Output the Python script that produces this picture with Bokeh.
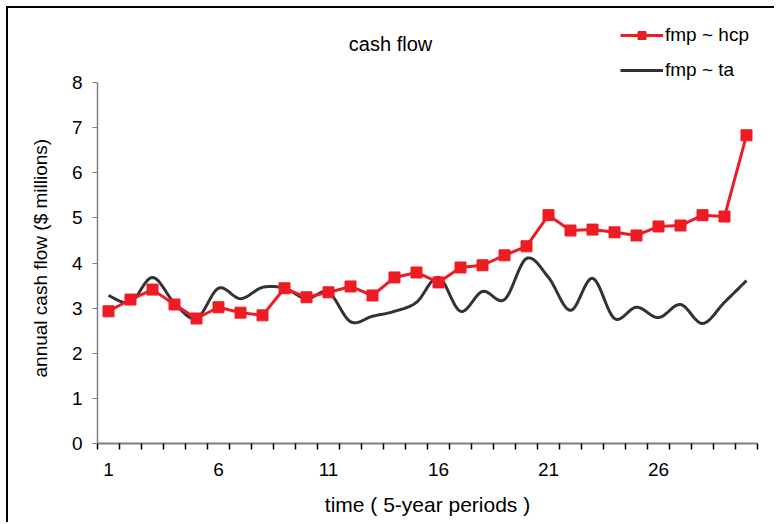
from bokeh.plotting import figure
from bokeh.models import (Range1d, FixedTicker, Label, Legend, LegendItem,
                          Title, ColumnDataSource)
from bokeh.embed import file_html
from bokeh.resources import INLINE

# ---- data ----
periods = list(range(1, 31))
hcp = [2.93, 3.19, 3.41, 3.08, 2.77, 3.02, 2.90, 2.84, 3.44, 3.24,
       3.35, 3.48, 3.28, 3.68, 3.79, 3.57, 3.90, 3.95, 4.17, 4.37,
       5.06, 4.72, 4.74, 4.68, 4.61, 4.81, 4.83, 5.06, 5.03, 6.83]
ta = [3.28, 3.13, 3.68, 3.11, 2.77, 3.44, 3.21, 3.46, 3.44, 3.21,
      3.35, 2.70, 2.82, 2.93, 3.13, 3.68, 2.93, 3.37, 3.19, 4.10,
      3.68, 2.95, 3.66, 2.77, 3.02, 2.79, 3.08, 2.66, 3.13, 3.61]
x_tick_labels = [1, 6, 11, 16, 21, 26]
y_ticks = [0, 1, 2, 3, 4, 5, 6, 7, 8]
series_names = ["fmp ~ hcp", "fmp ~ ta"]
chart_title = "cash flow"
x_title = "time ( 5-year periods )"
y_title = "annual cash flow ($ millions)"


def smooth(xs, ys, n=16):
    """Catmull-Rom style smoothing (like a spreadsheet 'smoothed line')."""
    px, py = [], []
    N = len(xs)
    for i in range(N - 1):
        x0, y0 = (xs[i - 1], ys[i - 1]) if i > 0 else (xs[i], ys[i])
        x1, y1 = xs[i], ys[i]
        x2, y2 = xs[i + 1], ys[i + 1]
        x3, y3 = (xs[i + 2], ys[i + 2]) if i + 2 < N else (xs[i + 1], ys[i + 1])
        bx1, by1 = x1 + (x2 - x0) / 6, y1 + (y2 - y0) / 6
        bx2, by2 = x2 - (x3 - x1) / 6, y2 - (y3 - y1) / 6
        for k in range(n):
            t = k / n
            a = (1 - t) ** 3
            b = 3 * (1 - t) ** 2 * t
            c = 3 * (1 - t) * t ** 2
            d = t ** 3
            px.append(a * x1 + b * bx1 + c * bx2 + d * x2)
            py.append(a * y1 + b * by1 + c * by2 + d * y2)
    px.append(xs[-1])
    py.append(ys[-1])
    return px, py


FONT = "Liberation Sans"
W, H = 768, 516
B_LEFT, B_RIGHT, B_TOP, B_BOTTOM = 89, 19, 2, 81
Y_MAX_AXIS = 8
AXIS_PX = 361  # pixel height of the 0..8 axis
y_end = Y_MAX_AXIS * (H - B_TOP - B_BOTTOM) / AXIS_PX

p = figure(width=W, height=H, output_backend="svg", toolbar_location=None,
           x_range=Range1d(0.5, 30.5), y_range=Range1d(0, y_end),
           min_border_left=B_LEFT, min_border_right=B_RIGHT,
           min_border_top=B_TOP, min_border_bottom=B_BOTTOM,
           styles={"margin-left": "6px", "margin-top": "6px",
                   "border-left": "2px solid black",
                   "border-top": "2px solid black"})
p.outline_line_color = None
p.xgrid.visible = False
p.ygrid.visible = False
p.background_fill_color = "white"
p.border_fill_color = "white"

red = "#ED1C24"
dark = "#333333"

sx, sy = smooth(periods, ta)
r_ta = p.line(sx, sy, line_color=dark, line_width=3)

src = ColumnDataSource(dict(x=periods, y=hcp))
r_hcp_line = p.line("x", "y", source=src, line_color=red, line_width=3)
r_hcp_pts = p.scatter("x", "y", source=src, marker="square", size=11,
                      fill_color=red, line_color=red)

# x axis
xa = p.xaxis[0]
xa.ticker = FixedTicker(ticks=x_tick_labels,
                        minor_ticks=[i + 0.5 for i in range(0, 31)])
xa.axis_line_color = "#808080"
xa.axis_line_width = 2
xa.major_tick_out = 0
xa.major_tick_in = 0
xa.minor_tick_out = 6
xa.minor_tick_in = 0
xa.minor_tick_line_color = "black"
xa.minor_tick_line_width = 1.5
xa.major_label_text_font = FONT
xa.major_label_text_font_size = "19px"
xa.major_label_text_color = "black"
xa.major_label_standoff = 13
xa.axis_label = x_title
xa.axis_label_text_font = FONT
xa.axis_label_text_font_size = "21px"
xa.axis_label_text_font_style = "normal"
xa.axis_label_text_color = "black"
xa.axis_label_standoff = 14

# y axis (only spans 0..8; the space above holds title and legend)
ya = p.yaxis[0]
ya.ticker = FixedTicker(ticks=y_ticks)
ya.bounds = (0, Y_MAX_AXIS)
ya.axis_line_color = "#808080"
ya.axis_line_width = 1.5
ya.major_tick_out = 5
ya.major_tick_in = 0
ya.major_tick_line_color = "#808080"
ya.minor_tick_out = 0
ya.minor_tick_in = 0
ya.major_label_text_font = FONT
ya.major_label_text_font_size = "19px"
ya.major_label_text_color = "black"
ya.major_label_standoff = 10

ytitle = Title(text=y_title, align="left", offset=66, standoff=36,
               vertical_align="bottom", text_font=FONT,
               text_font_size="19px", text_font_style="normal",
               text_color="black")
p.add_layout(ytitle, "left")

# chart title
title = Label(x=13.82, y=8.864, text=chart_title, text_align="center",
              text_baseline="middle", text_font=FONT,
              text_font_size="20px", text_color="black")
p.add_layout(title)

legend = Legend(items=[LegendItem(label=series_names[0], renderers=[r_hcp_line, r_hcp_pts]),
                       LegendItem(label=series_names[1], renderers=[r_ta])],
                location=(523, 362), orientation="vertical",
                background_fill_alpha=0, border_line_color=None,
                label_text_font=FONT, label_text_font_size="19px",
                label_text_color="black", glyph_width=43, glyph_height=20,
                label_standoff=2, spacing=13, padding=0, margin=0)
p.add_layout(legend, "center")

open("out.html", "w").write(file_html(p, INLINE))
